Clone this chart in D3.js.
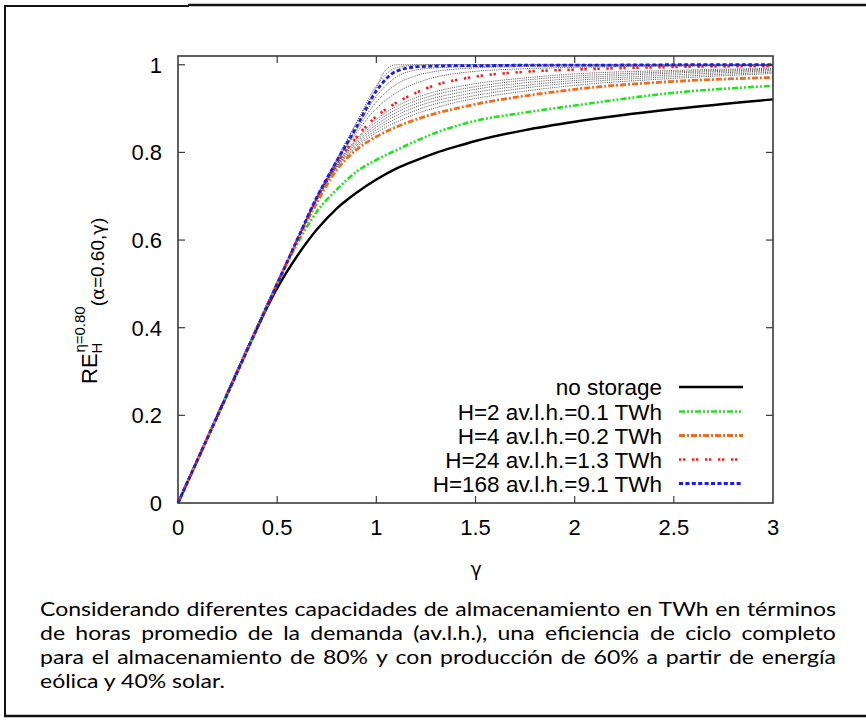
<!DOCTYPE html>
<html><head><meta charset="utf-8">
<script src="https://cdn.jsdelivr.net/npm/d3@7"></script>
<style>body{margin:0;background:#fff}svg{display:block}</style>
</head><body>
<svg id="c" width="866" height="721"></svg>
<script>
// ---------- data ----------
const gammaGrid = [0, 0.25, 0.4, 0.5, 0.6, 0.7, 0.8, 0.9, 1.0, 1.1, 1.2, 1.3, 1.4, 1.5, 1.75, 2.0, 2.5, 3.0];
const noStorage = [0, 0.25, 0.4, 0.49, 0.563, 0.624, 0.672, 0.708, 0.738, 0.763, 0.782, 0.799, 0.813, 0.826, 0.851, 0.870, 0.899, 0.921];
const h2   = [0, 0.25, 0.4, 0.5, 0.59, 0.665, 0.715, 0.756, 0.783, 0.805, 0.826, 0.845, 0.86, 0.872, 0.891, 0.907, 0.936, 0.952];
const h4   = [0, 0.25, 0.4, 0.5, 0.597, 0.685, 0.76, 0.806, 0.836, 0.858, 0.875, 0.889, 0.9, 0.91, 0.929, 0.944, 0.962, 0.971];
const h24  = [0, 0.25, 0.4, 0.5, 0.6, 0.696, 0.775, 0.835, 0.882, 0.913, 0.936, 0.954, 0.965, 0.973, 0.984, 0.989, 0.995, 0.997];
const h168 = [0, 0.25, 0.4, 0.5, 0.6, 0.698, 0.78, 0.858, 0.94, 0.985, 0.995, 0.997, 0.998, 0.998, 0.999, 0.999, 1.0, 1.0];
// other storage capacities (thin dotted curves)
const otherCurves = [
  [0, 0.25, 0.4, 0.5, 0.598, 0.69, 0.765, 0.812, 0.845, 0.869, 0.888, 0.902, 0.914, 0.923, 0.94, 0.953, 0.969, 0.980],
  [0, 0.25, 0.4, 0.5, 0.598, 0.691, 0.767, 0.816, 0.851, 0.877, 0.896, 0.911, 0.921, 0.930, 0.947, 0.959, 0.973, 0.983],
  [0, 0.25, 0.4, 0.5, 0.599, 0.692, 0.768, 0.820, 0.857, 0.884, 0.904, 0.918, 0.928, 0.937, 0.953, 0.964, 0.977, 0.986],
  [0, 0.25, 0.4, 0.5, 0.599, 0.693, 0.770, 0.824, 0.863, 0.891, 0.911, 0.925, 0.935, 0.944, 0.959, 0.969, 0.981, 0.988],
  [0, 0.25, 0.4, 0.5, 0.6, 0.694, 0.772, 0.828, 0.869, 0.898, 0.918, 0.932, 0.942, 0.950, 0.965, 0.974, 0.984, 0.990],
  [0, 0.25, 0.4, 0.5, 0.6, 0.695, 0.773, 0.831, 0.875, 0.905, 0.925, 0.939, 0.949, 0.957, 0.970, 0.979, 0.987, 0.992],
  [0, 0.25, 0.4, 0.5, 0.6, 0.697, 0.778, 0.845, 0.900, 0.936, 0.958, 0.972, 0.980, 0.985, 0.991, 0.994, 0.997, 0.998],
  [0, 0.25, 0.4, 0.5, 0.6, 0.698, 0.779, 0.851, 0.915, 0.955, 0.975, 0.985, 0.990, 0.993, 0.996, 0.997, 0.998, 0.999],
  [0, 0.25, 0.4, 0.5, 0.6, 0.698, 0.780, 0.856, 0.928, 0.972, 0.988, 0.993, 0.995, 0.996, 0.998, 0.999, 0.999, 1.0],
  [0, 0.25, 0.4, 0.5, 0.6, 0.699, 0.785, 0.868, 0.952, 0.993, 0.999, 1.0, 1.0, 1.0, 1.0, 1.0, 1.0, 1.0]
];
const idealGamma = [0, 0.6, 0.9, 1.0, 1.04, 1.07, 1.1, 3.0];
const idealValues = [0, 0.6, 0.868, 0.948, 0.984, 0.996, 1.0, 1.0];

const seriesLabels = ["no storage", "H=2 av.l.h.=0.1 TWh", "H=4 av.l.h.=0.2 TWh", "H=24 av.l.h.=1.3 TWh", "H=168 av.l.h.=9.1 TWh"];
const xTicks = [0, 0.5, 1, 1.5, 2, 2.5, 3];
const xTickLabels = ["0", "0.5", "1", "1.5", "2", "2.5", "3"];
const yTicks = [0, 0.2, 0.4, 0.6, 0.8, 1];
const yTickLabels = ["0", "0.2", "0.4", "0.6", "0.8", "1"];
const captionLines = [
  "Considerando diferentes capacidades de almacenamiento en TWh en términos",
  "de horas promedio de la demanda (av.l.h.), una eficiencia de ciclo completo",
  "para el almacenamiento de 80% y con producción de 60% a partir de energía",
  "eólica y 40% solar."
];

// ---------- styles ----------
const styles = [
  {color: "#000000", width: 2.4, dash: null},
  {color: "#1fe51f", width: 2.6, dash: "6,2,2,2,2,2"},
  {color: "#f26b1d", width: 2.8, dash: "6,2,2,2"},
  {color: "#ff1a1a", width: 2.6, dash: "2.4,1.6,2.4,6.6"},
  {color: "#1a1aff", width: 2.8, dash: "4,2.4"}
];
const mainSeries = [noStorage, h2, h4, h24, h168];

const svg = d3.select("#c");
const font = "'Liberation Sans', Arial, sans-serif";
const greekFont = "'DejaVu Sans', sans-serif";

// outer frame
svg.append("line").attr("x1", 5).attr("x2", 5).attr("y1", 5).attr("y2", 717).attr("stroke", "#111").attr("stroke-width", 2);
svg.append("line").attr("x1", 4).attr("x2", 189).attr("y1", 6).attr("y2", 6).attr("stroke", "#111").attr("stroke-width", 2);
svg.append("line").attr("x1", 188).attr("x2", 866).attr("y1", 5).attr("y2", 5).attr("stroke", "#111").attr("stroke-width", 2.6);
svg.append("line").attr("x1", 4).attr("x2", 866).attr("y1", 716).attr("y2", 716).attr("stroke", "#111").attr("stroke-width", 2.4);

// scales
const L = 178, R = 773, T = 56, B = 503;
const x = d3.scaleLinear().domain([0, 3]).range([L, R]);
const y = d3.scaleLinear().domain([0, 1.02]).range([B, T]);

const line = d3.line().x(d => x(d[0])).y(d => y(d[1])).curve(d3.curveMonotoneX);
const zipG = vals => gammaGrid.map((g, i) => [g, vals[i]]);

const plot = svg.append("g");
// thin dotted curves
otherCurves.forEach(vals => {
  plot.append("path").attr("d", line(zipG(vals))).attr("fill", "none")
    .attr("stroke", "#3a3a3a").attr("stroke-width", 0.9).attr("stroke-dasharray", "1,1.2");
});
plot.append("path").attr("d", line(idealGamma.map((g, i) => [g, idealValues[i]]))).attr("fill", "none")
  .attr("stroke", "#3a3a3a").attr("stroke-width", 0.9).attr("stroke-dasharray", "1,1.2");

mainSeries.forEach((vals, i) => {
  const s = styles[i];
  const p = plot.append("path").attr("d", line(zipG(vals))).attr("fill", "none")
    .attr("stroke", s.color).attr("stroke-width", s.width);
  if (s.dash) p.attr("stroke-dasharray", s.dash);
});

// frame + ticks
const axisColor = "#3a3a3a";
svg.append("rect").attr("x", L).attr("y", T).attr("width", R - L).attr("height", B - T)
  .attr("fill", "none").attr("stroke", axisColor).attr("stroke-width", 1.6);
const tl = 7;
xTicks.forEach((t, i) => {
  if (i > 0 && i < xTicks.length - 1) {
    svg.append("line").attr("x1", x(t)).attr("x2", x(t)).attr("y1", B).attr("y2", B - tl).attr("stroke", axisColor).attr("stroke-width", 1.2);
    svg.append("line").attr("x1", x(t)).attr("x2", x(t)).attr("y1", T).attr("y2", T + tl).attr("stroke", axisColor).attr("stroke-width", 1.2);
  }
  svg.append("text").attr("x", x(t)).attr("y", 535).attr("text-anchor", "middle")
    .attr("font-family", font).attr("font-size", 22).attr("fill", "#000").text(xTickLabels[i]);
});
yTicks.forEach((t, i) => {
  if (i > 0) {
    svg.append("line").attr("x1", L).attr("x2", L + tl).attr("y1", y(t)).attr("y2", y(t)).attr("stroke", axisColor).attr("stroke-width", 1.2);
    svg.append("line").attr("x1", R).attr("x2", R - tl).attr("y1", y(t)).attr("y2", y(t)).attr("stroke", axisColor).attr("stroke-width", 1.2);
  }
  svg.append("text").attr("x", 162).attr("y", y(t) + 8).attr("text-anchor", "end")
    .attr("font-family", font).attr("font-size", 22).attr("fill", "#000").text(yTickLabels[i]);
});

// x label
svg.append("text").attr("x", 476).attr("y", 576).attr("text-anchor", "middle")
  .attr("font-family", greekFont).attr("font-size", 19).attr("fill", "#000").text("γ");

// y label (rotated)
const yl = svg.append("text").attr("transform", "translate(97,384) rotate(-90)")
  .attr("font-family", font).attr("font-size", 22).attr("fill", "#000");
yl.append("tspan").text("RE");
yl.append("tspan").attr("font-size", 15).attr("dy", 5).text("H");
yl.append("tspan").attr("font-size", 15).attr("dx", -10).attr("dy", -17).text("η=0.80");
yl.append("tspan").attr("font-size", 19).attr("dy", 19).text("(");
yl.append("tspan").attr("font-size", 18).attr("font-family", greekFont).text("α");
yl.append("tspan").attr("font-size", 19).text("=0.60,");
yl.append("tspan").attr("font-size", 18).attr("font-family", greekFont).text("γ");
yl.append("tspan").attr("font-size", 19).text(")");

// legend
const legY = [387, 411.5, 435.5, 459.5, 483.5];
seriesLabels.forEach((lab, i) => {
  svg.append("text").attr("x", 662).attr("y", legY[i] + 8).attr("text-anchor", "end")
    .attr("font-family", font).attr("font-size", 22.5).attr("fill", "#000").text(lab);
  const s = styles[i];
  const ln = svg.append("line").attr("x1", 679).attr("x2", 743).attr("y1", legY[i]).attr("y2", legY[i])
    .attr("stroke", s.color).attr("stroke-width", s.width);
  if (s.dash) ln.attr("stroke-dasharray", s.dash);
});

// caption (justified)
const capFont = "Lato, 'Open Sans', sans-serif";
const capBase = [616, 640, 664, 688];
const capLeft = 40, capRight = 836;
const measure = svg.append("text").attr("font-family", capFont).attr("font-size", 20).attr("x", -1000).attr("y", -1000);
function tw(s) { measure.text(s); return measure.node().getComputedTextLength(); }
const sx = 185 / tw(captionLines[3]);
captionLines.forEach((ln, i) => {
  const g = svg.append("g").attr("transform", `translate(${capLeft},${capBase[i]}) scale(${sx},1)`);
  const words = ln.split(" ");
  if (i === captionLines.length - 1) {
    g.append("text").attr("font-family", capFont).attr("font-size", 20).attr("fill", "#000").text(ln);
    return;
  }
  const widths = words.map(tw);
  const total = d3.sum(widths);
  const target = (capRight - capLeft) / sx;
  const gap = (target - total) / (words.length - 1);
  let cx = 0;
  words.forEach((w, j) => {
    g.append("text").attr("x", cx).attr("font-family", capFont).attr("font-size", 20).attr("fill", "#000").text(w);
    cx += widths[j] + gap;
  });
});
measure.remove();
</script>
</body></html>
